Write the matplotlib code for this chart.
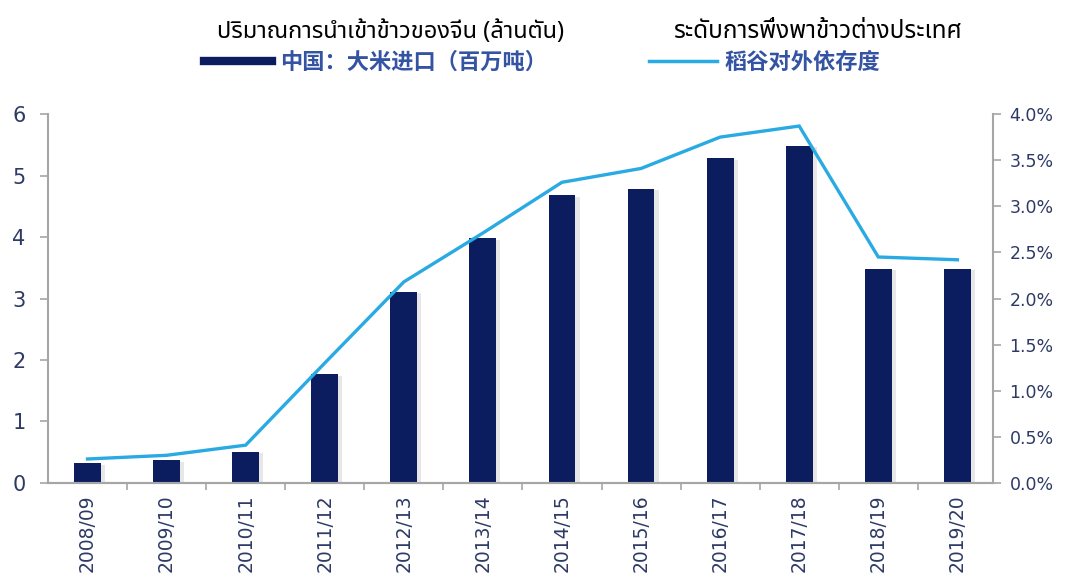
import matplotlib
matplotlib.use('Agg')
import matplotlib.pyplot as plt
import matplotlib.patheffects as pe
from matplotlib import font_manager, ft2font
from matplotlib.lines import Line2D
import numpy as np

seasons = ['2008/09', '2009/10', '2010/11', '2011/12', '2012/13', '2013/14',
           '2014/15', '2015/16', '2016/17', '2017/18', '2018/19', '2019/20']
imports_mt = [0.32, 0.37, 0.51, 1.77, 3.11, 3.98, 4.68, 4.78, 5.28, 5.48, 3.48, 3.48]
dependence_pct = [0.26, 0.30, 0.41, 1.30, 2.18, 2.71, 3.26, 3.41, 3.75, 3.87, 2.45, 2.42]

title_bar = 'ปริมาณการนำเข้าข้าวของจีน (ล้านตัน)'
title_line = 'ระดับการพึ่งพาข้าวต่างประเทศ'
label_bar = '中国：大米进口（百万吨）'
label_line = '稻谷对外依存度'

NAVY = '#0b1d5e'
SKY = '#2aaae2'
TICK = '#2e3a66'
SPINE = '#a6a6a6'


def font_with(ch, preferred):
    names = {f.name for f in font_manager.fontManager.ttflist}
    for n in preferred:
        if n in names:
            return n
    for f in font_manager.fontManager.ttflist:
        try:
            if ord(ch) in ft2font.FT2Font(f.fname).get_charmap():
                return f.name
        except Exception:
            pass
    return 'DejaVu Sans'


thai_font = font_with('ป', ['Noto Sans Thai', 'Noto Sans Thai Looped', 'Loma', 'Garuda'])
cjk_font = 'Noto Sans CJK SC'

fig = plt.figure(figsize=(10.8, 5.76), dpi=100)
ax = fig.add_axes([0.0444, 0.1615, 0.8750, 0.6405])
ax2 = ax.twinx()

x = np.arange(len(seasons))
bars = ax.bar(x, imports_mt, width=0.34, color=NAVY, zorder=2)
for b in bars:
    b.set_path_effects([pe.SimplePatchShadow(offset=(3, -1), shadow_rgbFace='#b0b0b0', alpha=0.3),
                        pe.Normal()])
ax2.plot(x, dependence_pct, color=SKY, lw=2.4, solid_joinstyle='miter', zorder=3)

ax.set_xlim(-0.5, 11.45)
ax.set_ylim(0, 6)
ax2.set_ylim(0, 4)
ax.set_yticks(range(7))
ax2.set_yticks(np.arange(0, 4.01, 0.5))
ax2.set_yticklabels([f'{v:.1f}%' for v in np.arange(0, 4.01, 0.5)])

ax.set_xticks(x)
ax.set_xticklabels(seasons, rotation=90)
ax.set_xticks(x[:-1] + 0.5, minor=True)
ax.tick_params(axis='x', which='major', length=0, pad=8, labelsize=13.5, labelcolor=TICK)
ax.tick_params(axis='x', which='minor', length=5, width=1.2, color=SPINE, direction='out')
ax.tick_params(axis='y', length=6, width=1.2, color=SPINE, labelsize=15, labelcolor=TICK, pad=10)
ax2.tick_params(axis='y', length=6, width=1.2, color=SPINE, labelsize=12.5, labelcolor=TICK, pad=6)

for a in (ax, ax2):
    a.spines['top'].set_visible(False)
    for s in ('left', 'right', 'bottom'):
        a.spines[s].set_color(SPINE)
        a.spines[s].set_linewidth(1.5)
ax.spines['right'].set_visible(False)
ax2.spines['left'].set_visible(False)

fig.text(0.362, 0.945, title_bar, ha='center', va='center', fontsize=17,
         family=[thai_font, 'DejaVu Sans'], color='black')
fig.text(0.757, 0.945, title_line, ha='center', va='center', fontsize=17.5,
         family=[thai_font, 'DejaVu Sans'], color='black')

handles = [Line2D([], [], color=NAVY, lw=6), Line2D([], [], color=SKY, lw=2.5)]
fig.legend(handles, [label_bar, label_line], loc='center', bbox_to_anchor=(0.502, 0.892),
           ncol=2, frameon=False, handlelength=3.05, handletextpad=0.35, columnspacing=4.6,
           prop={'family': [cjk_font, 'DejaVu Sans'], 'size': 16, 'weight': 'bold'},
           labelcolor='#3553a3')

fig.savefig('out.png', dpi=100)
